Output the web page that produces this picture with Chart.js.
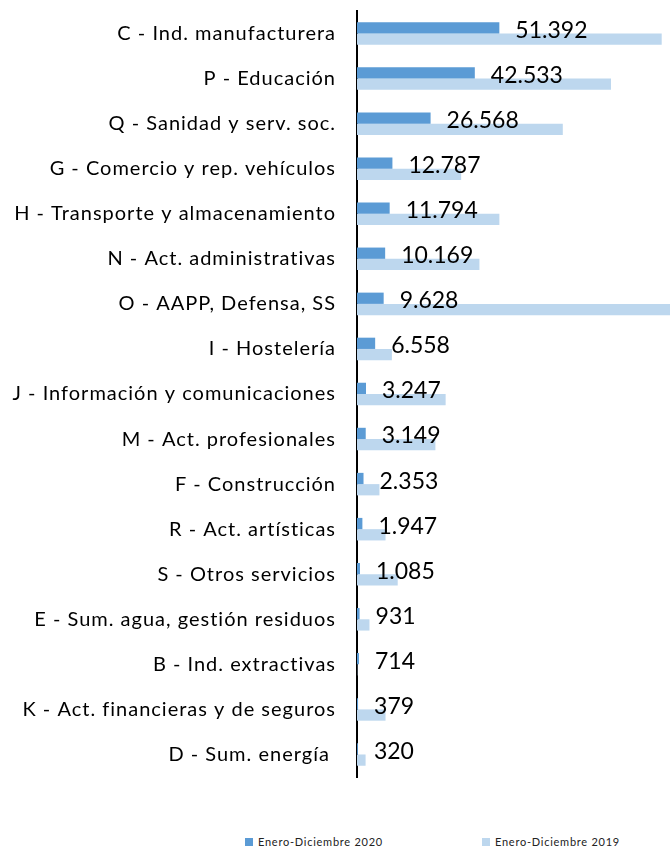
<!DOCTYPE html>
<html>
<head>
<meta charset="utf-8">
<script src="https://cdn.jsdelivr.net/npm/chart.js@4/dist/chart.umd.min.js"></script>
<style>
  body { margin: 0; background: #fff; }
  #wrap { position: relative; width: 670px; height: 800px; }
  #legend {
    position: absolute; top: 835px; left: 0; width: 670px;
    font-family: Lato, sans-serif; font-size: 11px; color: #222;
  }
  .item { position: absolute; display: flex; align-items: center; letter-spacing: 0.75px; }
  .box { width: 8px; height: 8px; margin-right: 5px; }
</style>
</head>
<body>
<div id="wrap"><canvas id="chart"></canvas></div>
<div id="legend"></div>
<script>
// categorías (de arriba a abajo)
const categories = [
  "C - Ind. manufacturera",
  "P - Educación",
  "Q - Sanidad y serv. soc.",
  "G - Comercio y rep. vehículos",
  "H - Transporte y almacenamiento",
  "N - Act. administrativas",
  "O - AAPP, Defensa, SS",
  "I - Hostelería",
  "J - Información y comunicaciones",
  "M - Act. profesionales",
  "F - Construcción",
  "R - Act. artísticas",
  "S - Otros servicios",
  "E - Sum. agua, gestión residuos",
  "B - Ind. extractivas",
  "K - Act. financieras y de seguros",
  "D - Sum. energía ",
];

// Enero-Diciembre 2020
const values2020 = [51392, 42533, 26568, 12787, 11794, 10169, 9628, 6558, 3247, 3149, 2353, 1947, 1085, 931, 714, 379, 320];

// Enero-Diciembre 2019 (estimado de la imagen)
const values2019 = [110000, 91700, 74300, 37600, 51400, 44200, 113000, 12600, 32000, 28300, 8100, 10300, 14700, 4500, 100, 10300, 3100];

const label2020 = "Enero-Diciembre 2020";
const label2019 = "Enero-Diciembre 2019";
const color2020 = "#5B9BD5";
const color2019 = "#BDD7EE";

// formato español: 51392 -> 51.392
function fmt(v) {
  return String(v).replace(/\B(?=(\d{3})+(?!\d))/g, ".");
}

// espaciado de letras como en el original (etiquetas de categoría)
const spacing = {
  id: "spacing",
  beforeDraw(chart) {
    chart.ctx.letterSpacing = "1px";
  },
};

// etiquetas de valor a la derecha de las barras 2020
const valueLabels = {
  id: "valueLabels",
  afterDatasetsDraw(chart) {
    const ctx = chart.ctx;
    const meta = chart.getDatasetMeta(0);
    ctx.save();
    ctx.letterSpacing = "0px";
    ctx.font = "23px Lato";
    ctx.fillStyle = "#000";
    ctx.textAlign = "left";
    ctx.textBaseline = "middle";
    meta.data.forEach((bar, i) => {
      const yMid = chart.scales.y.getPixelForValue(i);
      ctx.fillText(fmt(values2020[i]), bar.x + 16, yMid - 3);
    });
    ctx.restore();
  },
};

const chart = new Chart(document.getElementById("chart"), {
  type: "bar",
  data: {
    labels: categories,
    datasets: [
      { label: label2020, data: values2020, backgroundColor: color2020 },
      { label: label2019, data: values2019, backgroundColor: color2019 },
    ],
  },
  options: {
    indexAxis: "y",
    responsive: true,
    maintainAspectRatio: false,
    animation: false,
    layout: { padding: { top: 11, bottom: 23, right: 0, left: 0 } },
    datasets: { bar: { categoryPercentage: 0.5, barPercentage: 1 } },
    scales: {
      x: { display: false, min: 0, max: 113000 },
      y: {
        grid: { display: false },
        border: { display: true, color: "#000", width: 2 },
        ticks: { font: { family: "Lato", size: 20 }, color: "#000", padding: 13 },
        afterFit: (s) => {
          s.width = 357;
          s.paddingTop = 0;
          s.paddingBottom = 0;
        },
      },
    },
    plugins: {
      legend: { display: false },
      tooltip: { enabled: false },
    },
  },
  plugins: [spacing, valueLabels],
});

// leyenda en HTML
const legendPos = [245, 482];
const legendEl = document.getElementById("legend");
chart.data.datasets.forEach((ds, i) => {
  const item = document.createElement("div");
  item.className = "item";
  item.style.left = legendPos[i] + "px";
  item.innerHTML = `<span class="box" style="background:${ds.backgroundColor}"></span>${ds.label}`;
  legendEl.appendChild(item);
});
</script>
</body>
</html>
